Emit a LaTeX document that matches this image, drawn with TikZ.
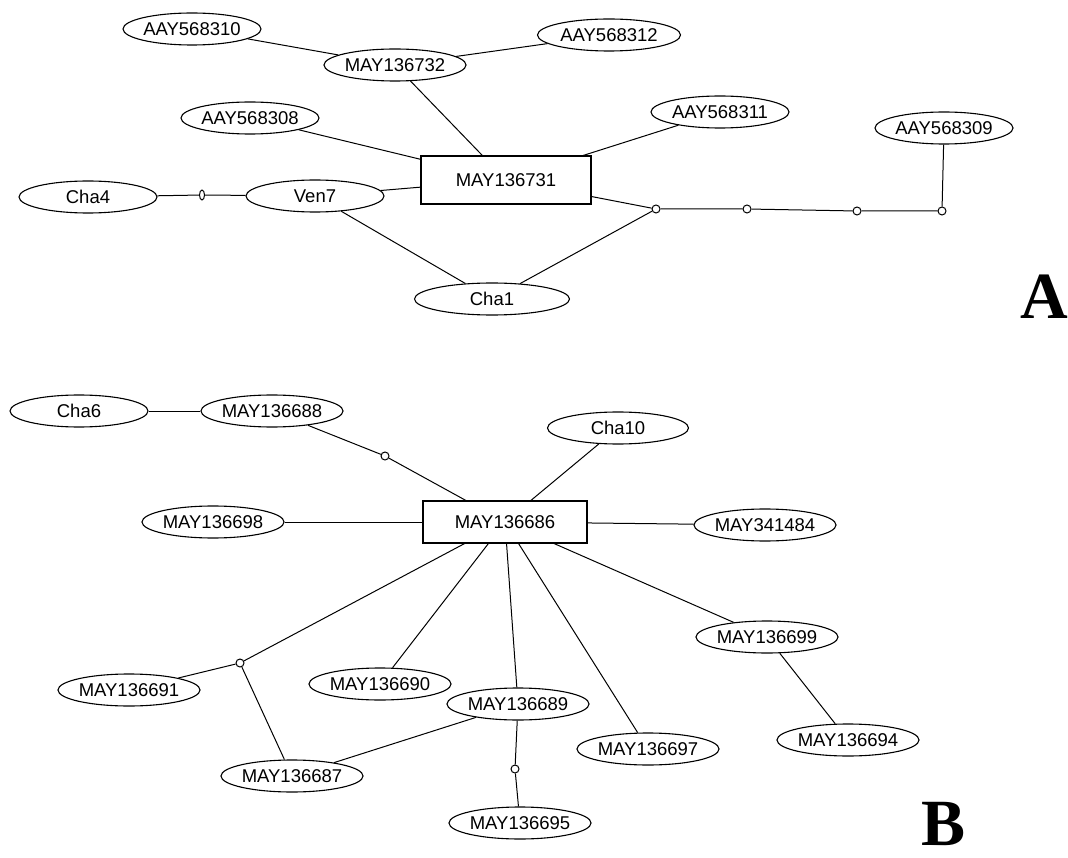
\documentclass[tikz,border=0pt]{standalone}
\usepackage{fontspec}
\setmainfont{Liberation Sans}
\newfontfamily\letterfont{Liberation Serif}
\usetikzlibrary{shapes.geometric}

\begin{document}
\begin{tikzpicture}[
    x=1pt, y=-1pt,
    every node/.style={font={\fontsize{18.5}{20}\selectfont}},
    seq/.style={draw, ellipse, line width=1.1pt, inner sep=0pt, minimum width=138pt, minimum height=32pt},
    hub/.style={draw, rectangle, line width=1.1pt, inner sep=0pt},
    dot/.style={draw, circle, fill=white, line width=1pt, inner sep=0pt, minimum size=8pt},
    flat/.style={draw, ellipse, fill=white, line width=1pt, inner sep=0pt, minimum width=5pt, minimum height=10pt},
    link/.style={line width=1pt},
    panel/.style={font={\letterfont\fontsize{66}{66}\selectfont\bfseries}}
  ]
  \useasboundingbox (0,0) rectangle (1068,858);

  \node[seq] (aay568310) at (192,29) {AAY568310};
  \node[seq] (may136732) at (395,65) {MAY136732};
  \node[seq, minimum width=143pt] (aay568312) at (609,35) {AAY568312};
  \node[seq] (aay568308) at (250,118) {AAY568308};
  \node[hub, minimum width=170pt, minimum height=48pt] (may136731) at (506,180) {MAY136731};
  \node[seq] (aay568311) at (720,112) {AAY568311};
  \node[seq] (aay568309) at (944,128) {AAY568309};
  \node[seq] (cha4) at (88,197) {Cha4};
  \node[seq] (ven7) at (315,196) {Ven7};
  \node[seq, minimum width=155pt] (cha1) at (492,299) {Cha1};
  \node[flat] (knot1) at (202,195) {};
  \node[dot] (d1) at (656,209) {};
  \node[dot] (d2) at (747,209) {};
  \node[dot] (d3) at (857,211) {};
  \node[dot] (d4) at (942,211) {};
  \node[panel] (labelA) at (1044,297) {A};

  \draw[link] (aay568310) -- (may136732);
  \draw[link] (aay568312) -- (may136732);
  \draw[link] (may136732) -- (may136731);
  \draw[link] (aay568308) -- (may136731);
  \draw[link] (aay568311) -- (may136731);
  \draw[link] (cha4) -- (knot1) -- (ven7);
  \draw[link] (ven7) -- (may136731);
  \draw[link] (ven7) -- (cha1);
  \draw[link] (cha1) -- (d1);
  \draw[link] (may136731) -- (d1) -- (d2) -- (d3) -- (d4) -- (aay568309);

  \node[seq] (cha6) at (79,411) {Cha6};
  \node[seq] (may136688) at (272,411) {MAY136688};
  \node[seq] (may136698) at (213,522) {MAY136698};
  \node[hub, minimum width=164pt, minimum height=42pt] (may136686) at (505,522) {MAY136686};
  \node[seq, minimum width=141pt] (cha10) at (618,428) {Cha10};
  \node[seq, minimum width=141pt] (may341484) at (765,525) {MAY341484};
  \node[seq, minimum width=141pt] (may136699) at (767,637) {MAY136699};
  \node[seq, minimum width=141pt] (may136694) at (848,740) {MAY136694};
  \node[seq, minimum width=141pt] (may136697) at (648,749) {MAY136697};
  \node[seq, minimum width=141pt] (may136689) at (518,704) {MAY136689};
  \node[seq, minimum width=142pt] (may136690) at (380,684) {MAY136690};
  \node[seq, minimum width=142pt] (may136687) at (292,776) {MAY136687};
  \node[seq, minimum width=142pt] (may136695) at (520,823) {MAY136695};
  \node[seq, minimum width=142pt] (may136691) at (129,690) {MAY136691};
  \node[dot] (d5) at (385,456) {};
  \node[dot] (d6) at (240,663) {};
  \node[dot] (d7) at (515,769) {};
  \node[panel] (labelB) at (943,824) {B};

  \draw[link] (cha6) -- (may136688);
  \draw[link] (may136688) -- (d5) -- (may136686);
  \draw[link] (cha10) -- (may136686);
  \draw[link] (may136698) -- (may136686);
  \draw[link] (may136686) -- (may341484);
  \draw[link] (may136686) -- (may136699);
  \draw[link] (may136699) -- (may136694);
  \draw[link] (may136686) -- (may136697);
  \draw[link] (may136686) -- (may136689);
  \draw[link] (may136686) -- (may136690);
  \draw[link] (may136686) -- (d6);
  \draw[link] (d6) -- (may136691);
  \draw[link] (d6) -- (may136687);
  \draw[link] (may136689) -- (may136687);
  \draw[link] (may136689) -- (d7) -- (may136695);
\end{tikzpicture}
\end{document}
